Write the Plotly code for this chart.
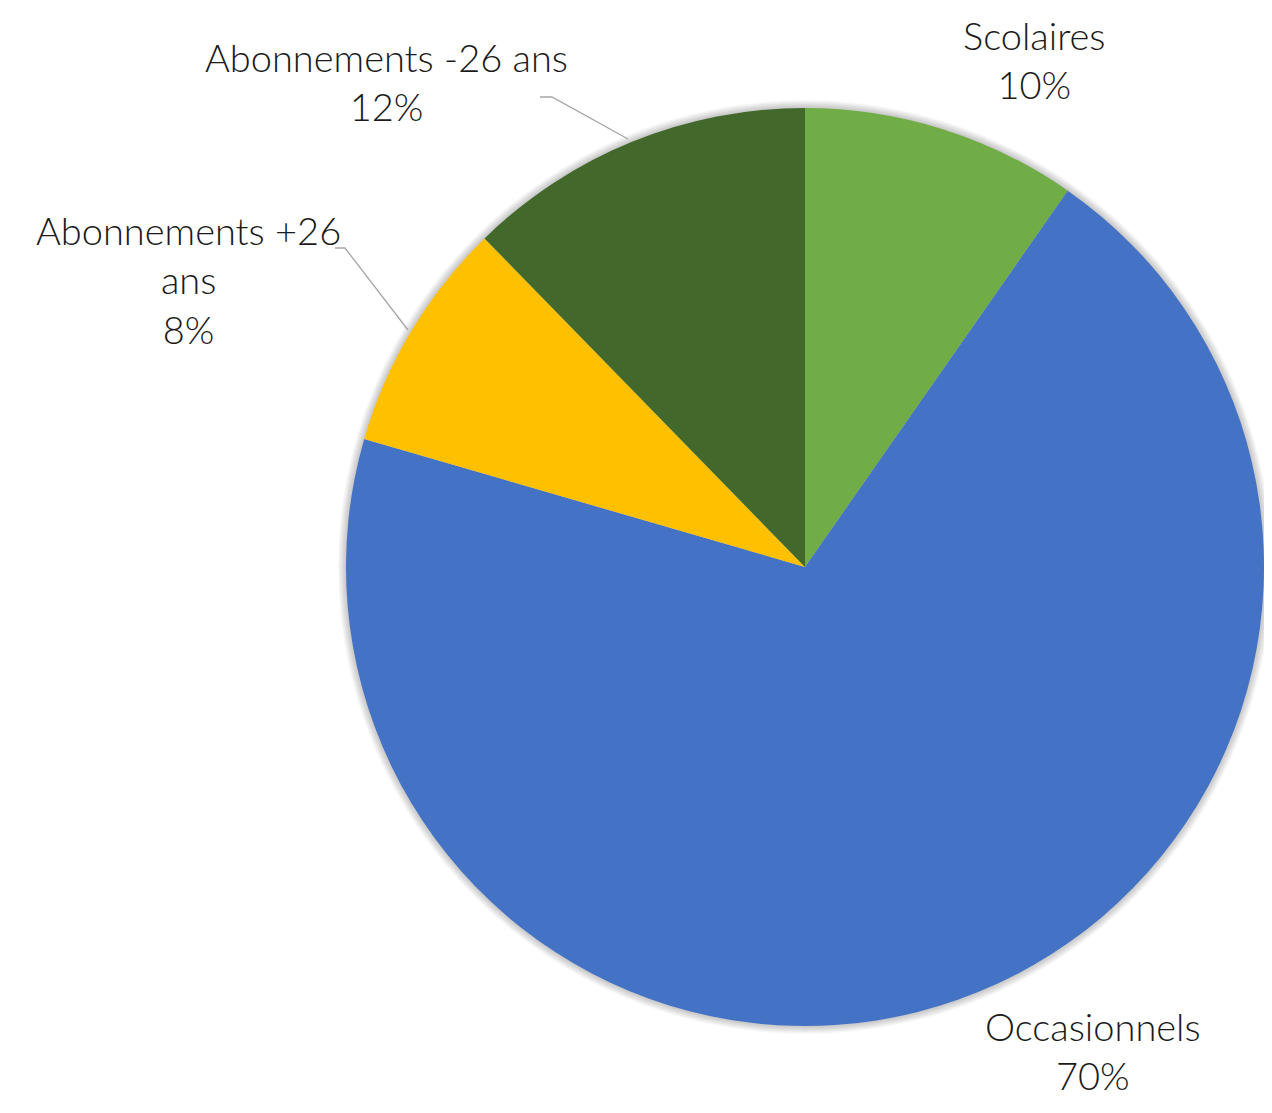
import plotly.graph_objects as go

# la page html ajoute une marge de 8 px autour de la figure
OFF = 8
W, H = 1272 - 2 * OFF, 1113 - 2 * OFF

labels = ["Scolaires", "Occasionnels", "Abonnements +26 ans", "Abonnements -26 ans"]
values = [9.7, 69.8, 8.2, 12.3]
colors = ["#70AD47", "#4472C4", "#FFC000", "#43682B"]

# texte des étiquettes (avec retours à la ligne comme dans l'original)
label_text = ["Scolaires", "Occasionnels", "Abonnements +26<br>ans", "Abonnements -26 ans"]
label_pos = [(1034, 60), (1093, 1050), (188, 279), (386, 82)]

cx, cy = 805, 567
r = min(462, W + OFF - cx)


def px(x):
    return min(max((x - OFF) / W, 0), 1)


def py(y):
    return min(max(1 - (y - OFF) / H, 0), 1)


fig = go.Figure()
fig.add_trace(go.Pie(
    labels=labels, values=values, sort=False, direction="clockwise", rotation=0,
    marker=dict(colors=colors, line=dict(width=0)),
    textinfo="none", hoverinfo="label+percent", showlegend=False,
    domain=dict(x=[px(cx - r), px(cx + r)], y=[py(cy + r), py(cy - r)]),
))

# ombre douce autour du camembert
shapes = []
for k in range(1, 9):
    shapes.append(dict(type="circle", xref="paper", yref="paper", layer="below",
                       x0=(cx - r - k - OFF) / W, x1=(cx + r + k - OFF) / W,
                       y0=1 - (cy + r + k - OFF) / H, y1=1 - (cy - r - k - OFF) / H,
                       fillcolor="rgba(0,0,0,0.028)", line=dict(width=0)))

# lignes de rappel
for pts in [[(540, 97), (552, 97), (628, 139)], [(335, 248), (345, 248), (408, 330)]]:
    path = "M " + " L ".join(f"{px(x)},{py(y)}" for x, y in pts)
    shapes.append(dict(type="path", xref="paper", yref="paper", path=path,
                       line=dict(color="#A6A6A6", width=1.3)))

total = sum(values)
annotations = []
for t, v, (x, y) in zip(label_text, values, label_pos):
    annotations.append(dict(
        text=f"{t}<br>{round(v / total * 100)}%", x=px(x), y=py(y),
        xref="paper", yref="paper", xanchor="center", yanchor="middle",
        showarrow=False, align="center",
        font=dict(family="Lato", size=38, weight=300, color="#1a1a1a"),
    ))

fig.update_layout(
    width=W, height=H, margin=dict(l=0, r=0, t=0, b=0),
    paper_bgcolor="white", plot_bgcolor="white",
    shapes=shapes, annotations=annotations,
)

fig.write_html("out.html")
